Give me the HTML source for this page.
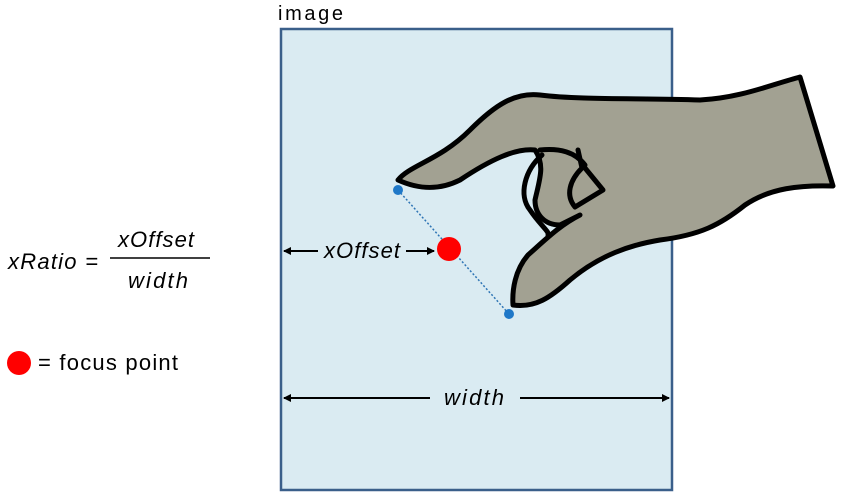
<!DOCTYPE html>
<html><head><meta charset="utf-8"><style>
html,body{margin:0;padding:0;background:#fff;width:842px;height:497px;overflow:hidden}
svg text{font-family:"Liberation Sans",Calibri,sans-serif}
</style></head><body>
<svg width="842" height="497" viewBox="0 0 842 497">
<defs>
<marker id="ah" markerWidth="8" markerHeight="8" refX="7" refY="4" orient="auto" markerUnits="userSpaceOnUse"><path d="M0,0 L8,4 L0,8 z" fill="#000"/></marker>
</defs>
<text x="278" y="20" font-size="20" textLength="65">image</text>
<rect x="281" y="29" width="391" height="461" fill="#daebf2" stroke="#3a5f8a" stroke-width="2.5"/>
<g stroke="#000" stroke-width="5" stroke-linejoin="round" stroke-linecap="round">
<path fill="#a2a192" d="M398,180 C410,165 440,160 470,130 C495,105 515,92 540,95 C580,100 640,98 700,100 C740,98 770,85 800,77 L833,186 C800,185 770,188 745,205 C720,225 700,235 660,240 C630,245 600,255 570,280 C550,298 535,308 513,305 C512,290 515,270 528,255 C545,240 560,225 580,215 L560,225 C545,225 535,215 535,200 C540,178 545,165 535,150 C515,148 490,160 460,180 C440,190 420,190 398,180 Z"/>
<path fill="none" d="M540,150 C560,148 575,152 585,165 M578,150 L582,168 C570,180 565,195 575,207 L603,190 L585,168 M542,155 C525,170 518,195 530,210 C540,225 550,232 548,235"/>
</g>
<line x1="398" y1="190" x2="509" y2="314" stroke="#2f75b5" stroke-width="1.5" stroke-dasharray="2,2"/>
<circle cx="398" cy="190" r="5" fill="#1f78c8"/>
<circle cx="509" cy="314" r="5" fill="#1f78c8"/>
<circle cx="449" cy="249" r="12" fill="#f00"/>
<line x1="318" y1="251" x2="284" y2="251" stroke="#000" stroke-width="2" marker-end="url(#ah)"/>
<line x1="406" y1="251" x2="434" y2="251" stroke="#000" stroke-width="2" marker-end="url(#ah)"/>
<text x="324" y="258" font-size="22" font-style="italic" textLength="76">xOffset</text>
<line x1="430" y1="398" x2="284" y2="398" stroke="#000" stroke-width="2" marker-end="url(#ah)"/>
<line x1="520" y1="398" x2="669" y2="398" stroke="#000" stroke-width="2" marker-end="url(#ah)"/>
<text x="444" y="405" font-size="22" font-style="italic" textLength="60">width</text>
<text x="8" y="269" font-size="22" font-style="italic" textLength="90">xRatio =</text>
<text x="118" y="247" font-size="22" font-style="italic" textLength="76">xOffset</text>
<line x1="110" y1="258" x2="210" y2="258" stroke="#000" stroke-width="1.5"/>
<text x="128" y="288" font-size="22" font-style="italic" textLength="60">width</text>
<circle cx="19" cy="363" r="12" fill="#f00"/>
<text x="38" y="370" font-size="22" textLength="140">= focus point</text>
</svg>
</body></html>
